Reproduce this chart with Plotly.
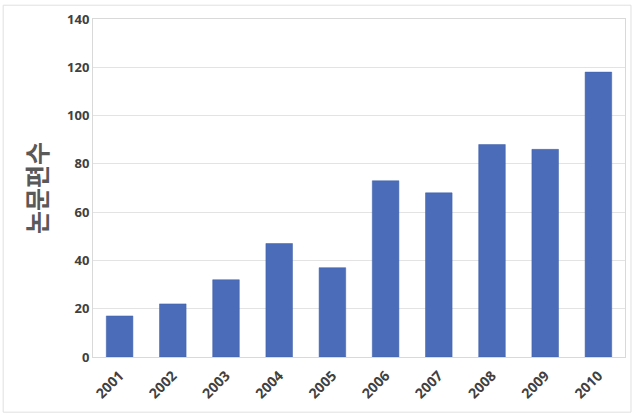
import plotly.graph_objects as go

years = ["2001", "2002", "2003", "2004", "2005", "2006", "2007", "2008", "2009", "2010"]
papers = [17, 22, 32, 47, 37, 73, 68, 88, 86, 118]
y_ticks = [0, 20, 40, 60, 80, 100, 120, 140]

fig = go.Figure(go.Bar(
    x=years, y=papers,
    marker=dict(color="#4a6cb9", line=dict(color="#3f5fa8", width=0.5)),
))

tick_font = dict(size=13, color="#404040", family="Open Sans, sans-serif", weight="bold")

fig.update_layout(
    width=636, height=413,
    margin=dict(l=93, r=10, t=14, b=56),
    paper_bgcolor="white", plot_bgcolor="white",
    bargap=0.5,
    showlegend=False,
    font=dict(family="Noto Sans CJK KR, Noto Sans, sans-serif", color="#404040"),
    xaxis=dict(
        type="category", tickangle=-45,
        tickfont=dict(size=14, color="#404040", family="Open Sans, sans-serif", weight="bold"),
        showline=True, linecolor="#d9d9d9", mirror=True,
        showgrid=False, ticks="outside", ticklen=4, tickcolor="rgba(0,0,0,0)",
    ),
    yaxis=dict(
        range=[0, 140], tickvals=y_ticks,
        tickfont=tick_font,
        showgrid=True, gridcolor="#e3e3e3",
        showline=True, linecolor="#d9d9d9", mirror=True,
        zeroline=False, ticks="", ticklen=0,
        title=dict(text="<b>논문편수</b>", font=dict(size=25, color="#595959", family="Noto Sans CJK KR"), standoff=12),
    ),
    shapes=[dict(type="rect", xref="paper", yref="paper",
                 x0=-90/533, x1=1 + 6/533, y0=-56/343, y1=1 + 14/343,
                 line=dict(color="#e0e0e0", width=1))],
)

fig.write_html("out.html")
